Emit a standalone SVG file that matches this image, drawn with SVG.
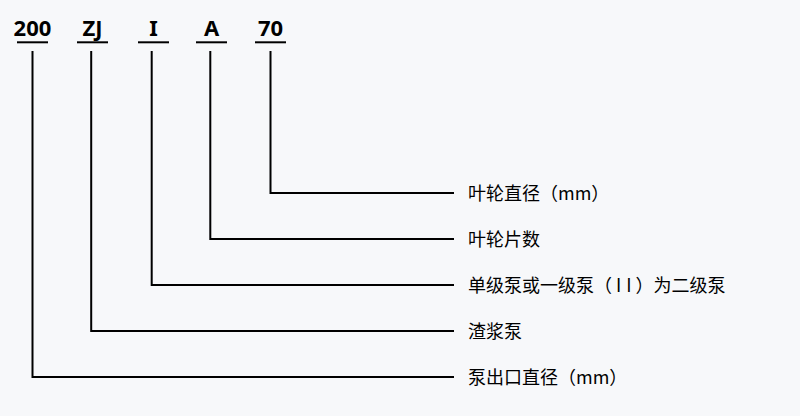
<svg xmlns="http://www.w3.org/2000/svg" width="800" height="416" viewBox="0 0 800 416">
<style>
.code{font-family:"Noto Sans","Open Sans","DejaVu Sans",sans-serif;font-weight:bold;font-size:22px;fill:#000;text-anchor:middle}
.lbl{font-family:"Noto Sans CJK SC","Noto Sans",sans-serif;font-size:18px;fill:#000}
.ln{fill:none;stroke:#000;stroke-width:2;stroke-linejoin:miter}
</style>
<rect width="800" height="416" fill="#f7f8fa"/>
<g id="node-200">
<text class="code" x="32.5" y="35.5">200</text>
<line class="ln" x1="17" y1="42.3" x2="48" y2="42.3"/>
</g>
<g id="node-ZJ">
<text class="code" x="92.5" y="35.5">ZJ</text>
<line class="ln" x1="77" y1="42.3" x2="108" y2="42.3"/>
</g>
<g id="node-I">
<text class="code" x="153.5" y="35.5">I</text>
<line class="ln" x1="138" y1="42.3" x2="169" y2="42.3"/>
</g>
<g id="node-A">
<text class="code" x="211.5" y="35.5">A</text>
<line class="ln" x1="196" y1="42.3" x2="227" y2="42.3"/>
</g>
<g id="node-70">
<text class="code" x="270.5" y="35.5">70</text>
<line class="ln" x1="255" y1="42.3" x2="286" y2="42.3"/>
</g>
<g id="label-70"><text class="lbl" x="468" y="199.5">叶轮直径（mm）</text></g>
<g id="label-A"><text class="lbl" x="468" y="245.5">叶轮片数</text></g>
<g id="label-I"><text class="lbl" x="468" y="291.5">单级泵或一级泵（<tspan dx="4">I</tspan><tspan dx="5">I</tspan><tspan dx="4">）为二级泵</tspan></text></g>
<g id="label-ZJ"><text class="lbl" x="468" y="337.5">渣浆泵</text></g>
<g id="label-200"><text class="lbl" x="468" y="383.5">泵出口直径（mm）</text></g>
<g id="connectors">
<polyline class="ln" points="270.5,51 270.5,193 454,193"/>
<polyline class="ln" points="210.3,51 210.3,239 454,239"/>
<polyline class="ln" points="151.7,51 151.7,285 454,285"/>
<polyline class="ln" points="91.2,51 91.2,331 454,331"/>
<polyline class="ln" points="32.5,51 32.5,377 454,377"/>
</g>
</svg>
